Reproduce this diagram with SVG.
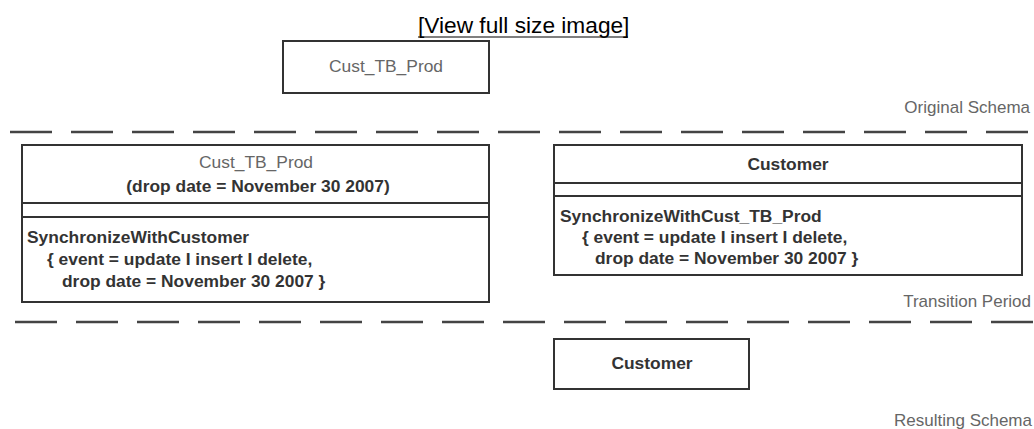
<svg xmlns="http://www.w3.org/2000/svg" width="1034" height="429" viewBox="0 0 1034 429">
<style>
text{font-family:"Liberation Sans",Arial,sans-serif;}
.box{fill:#fff;stroke:#333;stroke-width:2;}
.div{stroke:#333;stroke-width:2;}
.lbl{font-size:17.4px;fill:#666;}
.b{font-size:17.4px;font-weight:bold;fill:#333;}
.zone{font-size:17px;fill:#666;text-anchor:end;}
.sep{stroke:#444;stroke-width:2.5;stroke-dasharray:42 19;fill:none;}
.mid{text-anchor:middle;}
</style>
<rect width="1034" height="429" fill="#fff"/>
<g id="link">
<text x="418" y="33" font-size="22.7" fill="#000">[View full size image]</text>
<line x1="418" y1="37" x2="628" y2="37" stroke="#000" stroke-width="1.2"/>
</g>
<g id="connectors">
<line class="sep" x1="10" y1="132" x2="1030" y2="132"/>
<line class="sep" x1="15" y1="322" x2="1034" y2="322"/>
</g>
<g id="zone-labels">
<text class="zone" x="1030" y="113">Original Schema</text>
<text class="zone" x="1031" y="307">Transition Period</text>
<text class="zone" x="1032" y="426">Resulting Schema</text>
</g>
<g id="node-original">
<rect class="box" x="283" y="41" width="206" height="52"/>
<text class="lbl mid" x="386" y="72">Cust_TB_Prod</text>
</g>
<g id="node-transition-old">
<rect class="box" x="22" y="145" width="467" height="157"/>
<line class="div" x1="22" y1="203" x2="489" y2="203"/>
<line class="div" x1="22" y1="217" x2="489" y2="217"/>
<text class="lbl mid" x="256" y="168">Cust_TB_Prod</text>
<text class="b mid" x="258" y="192">(drop date = November 30 2007)</text>
<text class="b" x="27" y="243">SynchronizeWithCustomer</text>
<text class="b" x="47" y="265">{ event = update I insert I delete,</text>
<text class="b" x="62" y="287">drop date = November 30 2007 }</text>
</g>
<g id="node-transition-new">
<rect class="box" x="554" y="145" width="468" height="130"/>
<line class="div" x1="554" y1="183" x2="1022" y2="183"/>
<line class="div" x1="554" y1="196" x2="1022" y2="196"/>
<text class="b mid" x="788" y="170">Customer</text>
<text class="b" x="560" y="222">SynchronizeWithCust_TB_Prod</text>
<text class="b" x="582" y="243">{ event = update I insert I delete,</text>
<text class="b" x="595" y="264">drop date = November 30 2007 }</text>
</g>
<g id="node-resulting">
<rect class="box" x="554" y="339" width="195" height="50"/>
<text class="b mid" x="652" y="369">Customer</text>
</g>
</svg>
